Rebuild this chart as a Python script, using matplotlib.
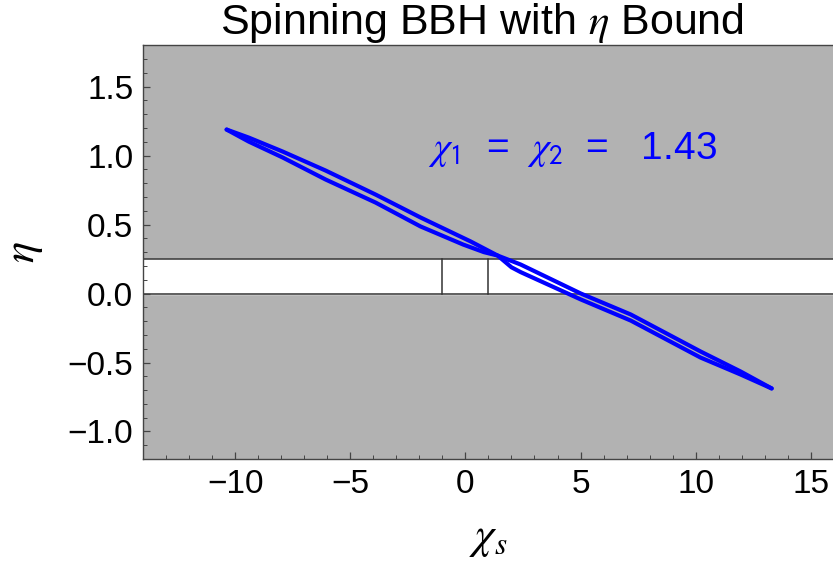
import numpy as np
import matplotlib.pyplot as plt
from matplotlib.ticker import MultipleLocator

plt.rcParams['font.family'] = ['Liberation Sans', 'DejaVu Sans']
plt.rcParams['mathtext.fontset'] = 'stix'

# points: two branches of the loop, left tip to right tip
chi_upper = [-10.37, -9.41, -7.94, -6.07, -3.90, -1.95, 0.23, 1.40, 2.40, 5.01, 7.18, 10.21, 11.95, 13.30]
eta_upper = [1.188, 1.130, 1.029, 0.891, 0.717, 0.551, 0.377, 0.275, 0.210, 0.000, -0.152, -0.420, -0.565, -0.688]
chi_lower = [-10.37, -9.41, -7.94, -6.07, -3.90, -1.95, -0.10, 0.80, 1.40, 2.00, 2.40, 5.01, 7.18, 10.21, 11.95, 13.30]
eta_lower = [1.188, 1.101, 0.986, 0.826, 0.659, 0.486, 0.355, 0.300, 0.275, 0.190, 0.155, -0.043, -0.196, -0.464, -0.587, -0.688]

eta_bound = [0.0, 0.25]
chi_bound = [-1.0, 1.0]
spin = 1.43

fig = plt.figure(figsize=(8.33, 5.64), dpi=100)
ax = fig.add_axes([0.1717, 0.186, 0.8293, 0.734])

gray = '#b2b2b2'
ax.set_facecolor(gray)
ax.axhspan(eta_bound[0], eta_bound[1], color='white', zorder=0)
ax.axhline(eta_bound[0], color='#333333', lw=1.1, zorder=1)
ax.axhline(eta_bound[1], color='#333333', lw=1.1, zorder=1)
for c in chi_bound:
    ax.plot([c, c], eta_bound, color='#333333', lw=1.1, zorder=1)

ax.plot(chi_upper, eta_upper, color='#0000ff', lw=3.0, solid_capstyle='round',
        solid_joinstyle='round', zorder=2)
ax.plot(chi_lower, eta_lower, color='#0000ff', lw=3.0, solid_capstyle='round',
        solid_joinstyle='round', zorder=2)

ax.text(4.65, 1.04, r'$\chi_{\mathsf{1}}$  =  $\chi_{\mathsf{2}}$  =   %.2f' % spin, color='#0000ff',
        fontsize=28, ha='center', va='center')

ax.set_xlim(-14, 16)
ax.set_ylim(-1.2, 1.8)
ax.xaxis.set_major_locator(MultipleLocator(5))
ax.xaxis.set_minor_locator(MultipleLocator(1))
ax.yaxis.set_major_locator(MultipleLocator(0.5))
ax.yaxis.set_minor_locator(MultipleLocator(0.1))
ax.yaxis.set_major_formatter(plt.FuncFormatter(lambda v, p: ('%.1f' % v).replace('-', '\u2212')))
ax.tick_params(which='major', direction='in', length=5, width=0.9, color='#444444', labelsize=24, pad=7)
ax.tick_params(which='minor', direction='in', length=3, width=0.7, color='#444444')
for s in ax.spines.values():
    s.set_color('#444444')
    s.set_linewidth(1.0)

ax.set_xlabel(r'$\chi_s$', fontsize=32, labelpad=13)
ax.set_ylabel(r'$\eta$', fontsize=32, labelpad=16, rotation=90)
ax.set_title(r'Spinning BBH with $\eta$ Bound', fontsize=31, pad=4, x=0.49)

fig.savefig('out.png', dpi=100)
